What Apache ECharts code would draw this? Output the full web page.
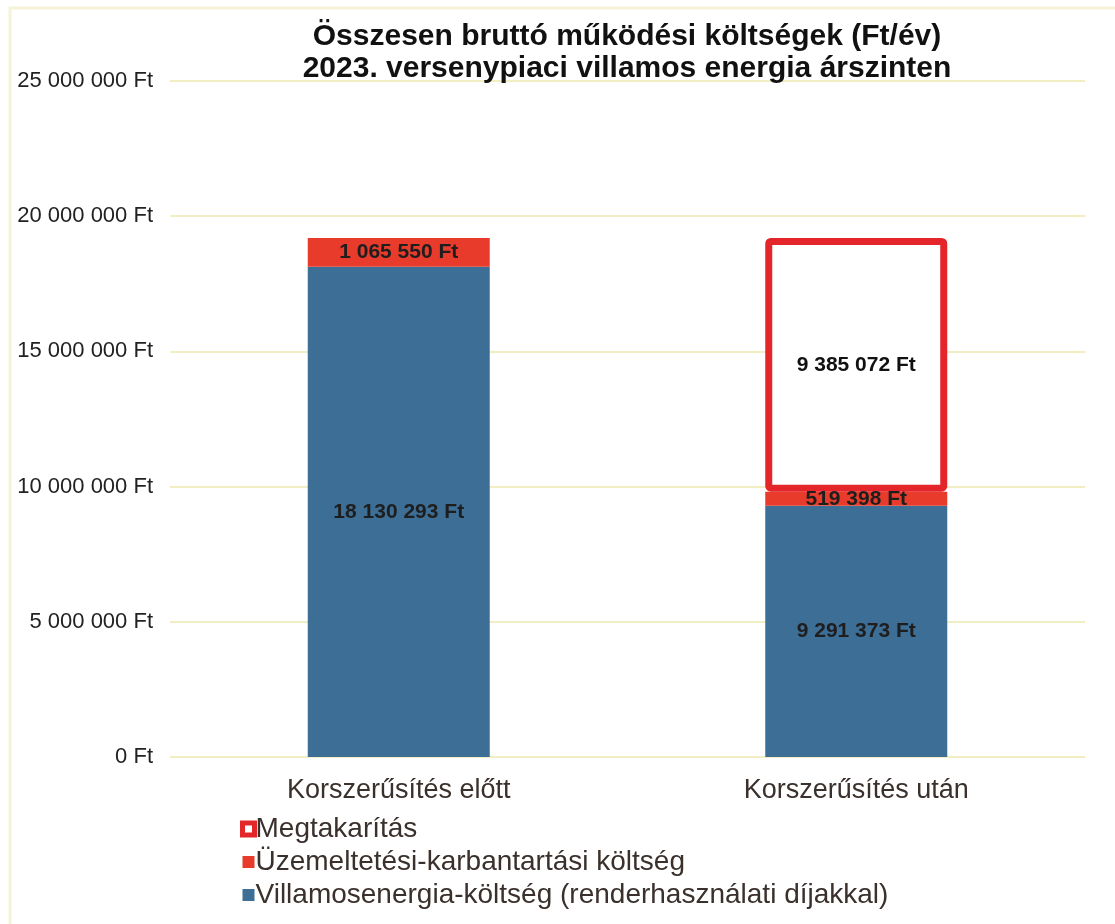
<!DOCTYPE html>
<html>
<head>
<meta charset="utf-8">
<script src="https://cdn.jsdelivr.net/npm/echarts@6/dist/echarts.min.js"></script>
<style>
  html, body { margin: 0; padding: 0; background: #fff; }
  #chart { width: 1115px; height: 924px; }
</style>
</head>
<body>
<div id="chart"></div>
<script>
// adatok
const categories = ["Korszerűsítés előtt", "Korszerűsítés után"];
const energyCost = [18130293, 9291373];
const maintenanceCost = [1065550, 519398];
const savings = ["-", 9385072];
const yTicks = [0, 5000000, 10000000, 15000000, 20000000, 25000000];

const seriesNames = [
  "Villamosenergia-költség (renderhasználati díjakkal)",
  "Üzemeltetési-karbantartási költség",
  "Megtakarítás"
];

function ft(v) {
  return String(Math.round(v)).replace(/\B(?=(\d{3})+(?!\d))/g, " ") + " Ft";
}

const chart = echarts.init(document.getElementById("chart"));

const barLabel = {
  show: true,
  position: "inside",
  formatter: p => ft(p.value),
  color: "#1e1e1e",
  fontFamily: "Liberation Sans, Arial, sans-serif",
  fontWeight: "bold",
  fontSize: 21
};

const option = {
  backgroundColor: "#ffffff",
  animation: false,
  title: {
    text: "Összesen bruttó működési költségek (Ft/év)\n2023. versenypiaci villamos energia árszinten",
    left: 622,
    textAlign: "center",
    top: 16,
    textStyle: {
      fontFamily: "Liberation Sans, Arial, sans-serif",
      fontWeight: "bold",
      fontSize: 30,
      lineHeight: 32,
      color: "#111"
    }
  },
  grid: { left: 170, right: 30, top: 81, bottom: 167 },
  legend: {
    orient: "vertical",
    left: 235,
    top: 810,
    itemGap: 5,
    itemWidth: 12,
    itemHeight: 12,
    selectedMode: false,
    textStyle: {
      fontFamily: "Liberation Sans, Arial, sans-serif",
      fontSize: 28,
      color: "#3a302c",
      padding: [0, 0, 0, -4]
    },
    data: [
      { name: seriesNames[2], icon: "rect", itemStyle: { color: "#fff", borderColor: "#e4262b", borderWidth: 5 } },
      { name: seriesNames[1], icon: "rect" },
      { name: seriesNames[0], icon: "rect" }
    ]
  },
  xAxis: {
    type: "category",
    data: categories,
    axisLine: { show: false },
    axisTick: { show: false },
    axisLabel: {
      margin: 20,
      fontFamily: "Liberation Sans, Arial, sans-serif",
      fontSize: 27,
      color: "#3a302c"
    }
  },
  yAxis: {
    type: "value",
    min: yTicks[0],
    max: yTicks[yTicks.length - 1],
    interval: yTicks[1] - yTicks[0],
    axisLine: { show: false },
    axisTick: { show: false },
    splitLine: { lineStyle: { color: "#f1eec4", width: 2 } },
    axisLabel: {
      margin: 17,
      formatter: v => ft(v),
      fontFamily: "Liberation Sans, Arial, sans-serif",
      fontSize: 22,
      color: "#222"
    }
  },
  series: [
    {
      name: seriesNames[0],
      type: "bar",
      stack: "total",
      barWidth: 182,
      data: energyCost,
      itemStyle: { color: "#3d6e96" },
      label: barLabel
    },
    {
      name: seriesNames[1],
      type: "bar",
      stack: "total",
      data: maintenanceCost,
      itemStyle: { color: "#e83b2b" },
      label: barLabel
    },
    {
      name: seriesNames[2],
      type: "bar",
      stack: "total",
      data: savings,
      itemStyle: { color: "#ffffff", borderColor: "#e4262b", borderWidth: 7, borderRadius: 2 },
      label: Object.assign({}, barLabel, { color: "#111" })
    }
  ],
  graphic: [
    {
      type: "rect",
      shape: { x: 10, y: 8, width: 1120, height: 930 },
      style: { fill: "none", stroke: "#f5f3d6", lineWidth: 3 },
      silent: true
    }
  ]
};

chart.setOption(option);
</script>
</body>
</html>
